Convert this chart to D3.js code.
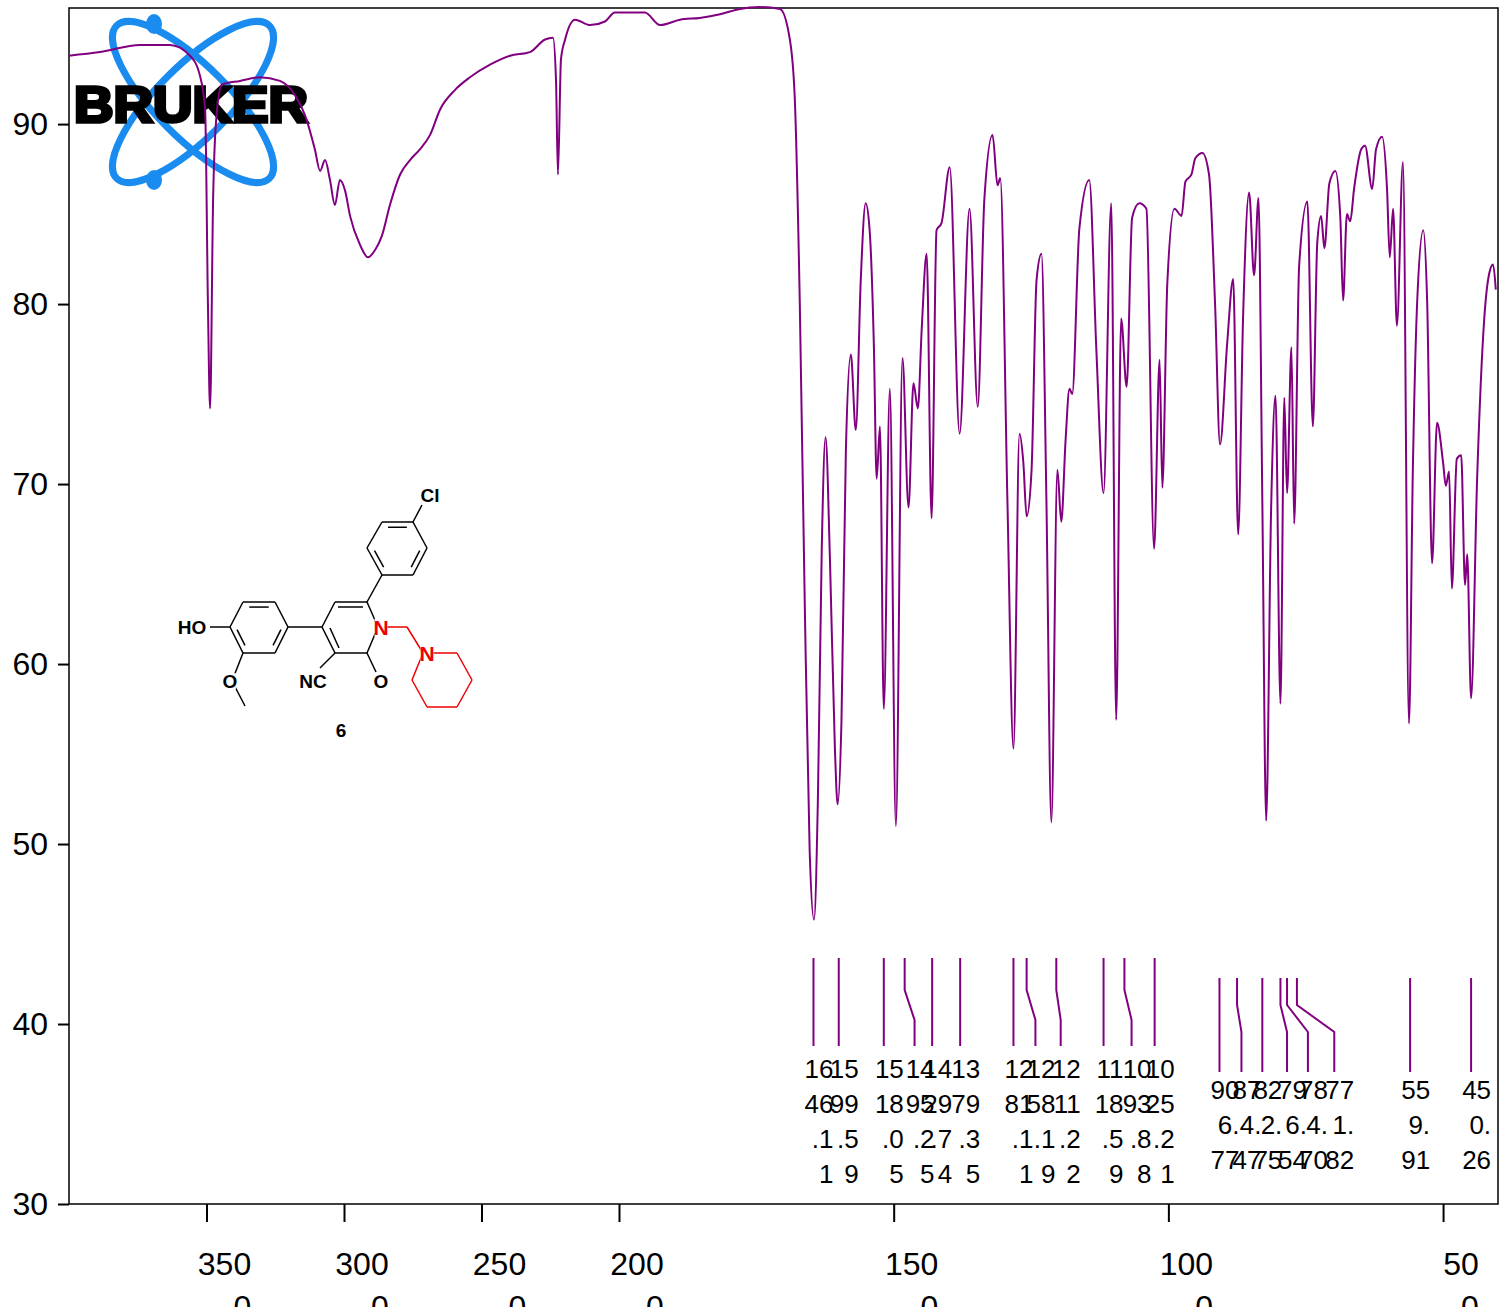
<!DOCTYPE html>
<html><head><meta charset="utf-8">
<script src="https://cdn.jsdelivr.net/npm/d3@7"></script>
<style>body{margin:0;background:#fff}svg{display:block}text{font-family:Arial,"Liberation Sans",sans-serif}</style>
</head><body>
<svg id="c" width="1510" height="1307"></svg>
<script>
const wavenumber=[4000,3887,3742,3633,3560,3524,3505,3495,3487,3476,3465,3444,3378,3306,3233,3178,3142,3106,3087,3069,3051,3033,3015,2996,2978,2942,2913,2887,2862,2833,2796,2760,2724,2687,2651,2596,2542,2469,2396,2324,2269,2240,2229,2222,2211,2196,2160,2105,2051,2015,
1980,1953,1925,1889,1853,1816,1780,1744,1707,1689,1680,1671,1662,1653,1645,1638,1631,1624,1616,1607,1602,1595,1587,1578,1569,1560,1551,1544,1536,1531,1525,1518,1507,1496,1484,1473,1464,1456,1449,1440,1431,1422,1413,1398,1380,1362,1347,1335,1320,1311,1306,1293,1282,1271,1264,1258,1249,1240,1231,1222,1213,1202,1195,1187,1180,1175,1162,1144,1131,1118,1104,1095,1086,1076,1066,1053,1040,1026,1016,1011,1002,989,976,969,958,951,938,926,915,906,893,882,873,864,853,844,836,829,822,813,805,796,789,784,776,771,762,747,737,729,722,716,707,696,687,682,675,669,662,649,642,629,622,611,602,597,591,584,573,562,555,547,536,529,520,511,500,495,489,484,475,467,460,456,449,438,425,416,409,404];
const transmittance=[93.8,94.0,94.4,94.4,93.8,92.7,90.8,80.2,74.2,85.8,90.2,92.2,92.4,92.6,92.4,91.6,90.5,88.6,87.4,88.0,86.9,85.5,86.9,86.3,84.9,83.3,82.6,83.0,83.8,85.5,87.2,88.0,88.6,89.4,90.8,91.9,92.6,93.3,93.8,94.0,94.7,94.8,92.4,87.2,93.6,94.7,95.8,95.5,95.7,96.2,
96.2,96.2,95.5,95.8,95.9,96.1,96.4,96.5,96.4,94.7,91.4,80.2,63.6,49.7,45.8,52.4,66.3,72.6,65.8,55.3,52.2,56.9,71.9,77.2,73.0,81.3,85.6,84.2,77.6,70.3,73.2,57.5,75.3,51.0,77.0,68.7,75.6,74.2,78.6,82.8,68.1,84.1,84.5,87.6,72.8,85.3,74.3,85.8,89.4,86.6,87.0,69.1,55.3,72.8,71.2,68.2,70.8,81.3,82.8,69.1,51.2,70.8,67.9,72.5,75.3,75.0,84.2,86.9,77.4,69.5,85.6,56.9,79.2,75.4,84.8,85.6,85.3,66.4,76.9,69.8,81.1,85.3,84.9,86.8,87.2,88.1,88.4,87.2,80.0,72.2,77.8,81.4,67.2,79.3,86.2,81.6,85.9,69.1,51.3,68.6,74.9,57.8,74.8,69.5,77.6,67.8,82.1,85.7,73.2,83.4,84.9,83.1,86.7,87.4,84.8,80.2,85.0,84.6,86.4,88.6,88.8,86.4,88.6,89.3,86.4,82.6,85.3,78.8,87.9,56.7,70.8,80.2,84.1,80.2,65.6,73.4,71.2,69.9,70.7,64.2,71.4,71.6,64.4,66.1,58.1,70.3,79.2,81.7,82.2,80.8];
const xTicks=[3500,3000,2500,2000,1500,1000,500];
const yTicks=[30,40,50,60,70,80,90];
const peaksA=[1646.11,1599.59,1518.05,1495.25,1429.74,1379.35,1281.11,1258.19,1211.22,1118.59,1093.88,1025.21];
const peaksATop=[1646,1600,1518,1480,1430,1379,1282,1258,1204,1118,1080,1025];
const peaksALab=[1646,1600,1518,1462,1430,1379,1282,1242,1196,1118,1067,1025];
const peaksB=[906.77,874.47,822.75,796.54,784.70,771.82,559.91,450.26];
const peaksBTop=[907,875,829,796,784,766,560,449];
const peaksBLab=[907,867,829,784,746,698,560,449];

const svg=d3.select("#c");
const x=d3.scaleLinear().domain([4000,2000,400]).range([69,619,1498]);
const y=d3.scaleLinear().domain([30,96.45]).range([1204,8]);
const P="#800080";

svg.append("rect").attr("x",69).attr("y",8).attr("width",1429).attr("height",1196).attr("fill","none").attr("stroke","#000").attr("stroke-width",1.5);

const gx=svg.append("g").attr("transform","translate(0,1204)");
gx.call(d3.axisBottom(x).tickValues(xTicks).tickSize(18).tickFormat(""));
gx.select(".domain").remove();
gx.selectAll("line").attr("stroke-width",2);
xTicks.forEach(t=>{
  const s=String(t);
  const t1=gx.append("text").attr("fill","#000").attr("x",x(t)+18).attr("y",71).attr("text-anchor","middle").attr("font-size",32).text(s.slice(0,-1));
  const w=t1.node().getComputedTextLength();
  gx.append("text").attr("fill","#000").attr("x",x(t)+18+w/2).attr("y",114).attr("text-anchor","end").attr("font-size",32).text(s.slice(-1));
});
const gy=svg.append("g").attr("transform","translate(69,0)");
gy.call(d3.axisLeft(y).tickValues(yTicks).tickSize(11).tickFormat(""));
gy.select(".domain").remove();
gy.selectAll("line").attr("stroke-width",2);
yTicks.forEach(t=>gy.append("text").attr("fill","#000").attr("x",-21).attr("y",y(t)+11).attr("text-anchor","end").attr("font-size",32).text(t));

const logo=svg.append("g");
[45,-45].forEach(a=>logo.append("ellipse").attr("cx",193).attr("cy",102).attr("rx",108).attr("ry",36)
  .attr("transform",`rotate(${a},193,102)`).attr("fill","none").attr("stroke","#1a8cf0").attr("stroke-width",7));
[[154,24],[154,180]].forEach(p=>logo.append("ellipse").attr("cx",p[0]).attr("cy",p[1]).attr("rx",8).attr("ry",10).attr("fill","#1a8cf0"));
logo.append("text").attr("x",74).attr("y",122).attr("font-size",50).attr("font-weight","bold")
  .attr("font-family","'DejaVu Sans',Arial").attr("fill","#000").attr("stroke","#000").attr("stroke-width",3.5).attr("paint-order","stroke")
  .attr("textLength",234).attr("lengthAdjust","spacingAndGlyphs").text("BRUKER");

const pts=wavenumber.map((w,i)=>[w,transmittance[i]]);
svg.append("path").datum(pts).attr("fill","none").attr("stroke",P).attr("stroke-width",2)
  .attr("d",d3.line().x(d=>x(d[0])).y(d=>y(d[1])).curve(d3.curveMonotoneX));

function peakGroup(vals,tops,labs,yTop,yK1,yK2,yBot,yText){
  vals.forEach((v,i)=>{
    const xt=x(tops[i]),xl=x(labs[i]);
    svg.append("path").attr("d",`M${xt},${yTop}V${yK1}L${xl},${yK2}V${yBot}`).attr("fill","none").attr("stroke",P).attr("stroke-width",2);
    const s=v.toFixed(2);
    const parts=[];for(let k=0;k<s.length;k+=2)parts.push(s.slice(k,k+2));
    parts.forEach((p,j)=>svg.append("text").attr("x",xl+20).attr("y",yText+j*35).attr("text-anchor","end").attr("font-size",26).text(p));
  });
}
peakGroup(peaksA,peaksATop,peaksALab,958,990,1020,1046,1078);
peakGroup(peaksB,peaksBTop,peaksBLab,978,1005,1032,1072,1099);

const m=svg.append("g").attr("stroke","#000").attr("stroke-width",1.5).attr("fill","none");
function ln(a,b,c){m.append("line").attr("x1",a[0]).attr("y1",a[1]).attr("x2",b[0]).attr("y2",b[1]).attr("stroke",c||"#000");}
function ring(v,dbl,c){
  const cx=d3.mean(v,d=>d[0]),cy=d3.mean(v,d=>d[1]);
  v.forEach((p,i)=>{const q=v[(i+1)%v.length];ln(p,q,c);
    if(dbl.includes(i)){const f=0.2;const a=[p[0]+(cx-p[0])*f,p[1]+(cy-p[1])*f],b=[q[0]+(cx-q[0])*f,q[1]+(cy-q[1])*f];
      const a2=[a[0]+(b[0]-a[0])*0.12,a[1]+(b[1]-a[1])*0.12],b2=[b[0]-(b[0]-a[0])*0.12,b[1]-(b[1]-a[1])*0.12];ln(a2,b2,c);}
  });
}
ring([[382,522],[413,522],[427,548],[413,575],[382,575],[367,548]],[0,2,4]);
ln([413,522],[422,505]);
ln([382,575],[367,602]);
const C6=[367,602],N1=[378,627],C2=[367,653],C3=[335,653],C4=[322,627],C5=[335,602];
ln(C6,N1);ln(N1,C2);ln(C2,C3);ln(C3,C4);ln(C4,C5);ln(C5,C6);
ln([338,607],[363,607]);ln([330,628],[339,648]);
ln(C2,[376,672]);ln(C3,[320,668]);
ln(N1,[407,627],"#e00");ln([407,627],[423,653],"#e00");
ring([[423,653],[457,653],[472,680],[457,707],[427,707],[412,680]],[],"#e00");
ring([[243,602],[275,602],[288,627],[275,653],[243,653],[230,627]],[0,2,4]);
ln([288,627],C4);ln([230,627],[210,627]);ln([243,653],[232,681]);ln([232,681],[245,706]);
const lab=(t,xx,yy,c,fs)=>{const f=fs||19;const w=t.length*f*0.62;
  svg.append("rect").attr("x",xx-w/2).attr("y",yy-f*0.78).attr("width",w).attr("height",f*0.85).attr("fill","#fff");
  svg.append("text").attr("x",xx).attr("y",yy).attr("text-anchor","middle").attr("font-size",f).attr("font-weight","bold").attr("fill",c||"#000").text(t);};
lab("Cl",430,502);lab("N",381,635,"#e00",21);lab("N",427,661,"#e00",21);lab("HO",192,634);lab("O",230,688);lab("NC",313,688);lab("O",381,688);lab("6",341,737);
</script></body></html>
